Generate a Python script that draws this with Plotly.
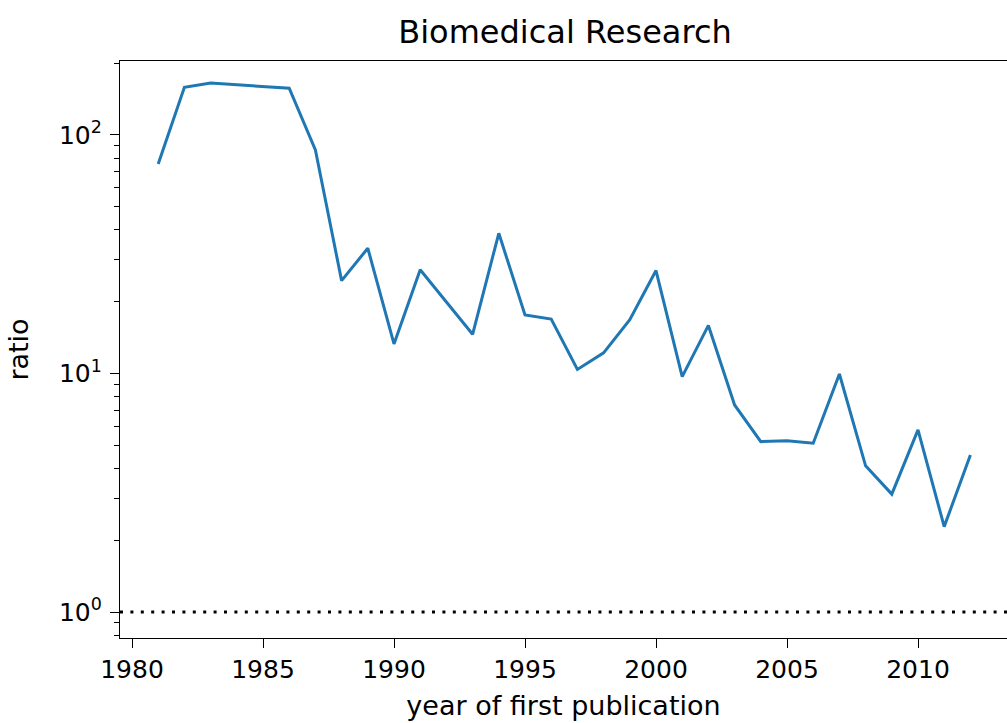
import plotly.graph_objects as go

years = [1981, 1982, 1983, 1984, 1985, 1986, 1987, 1988, 1989, 1990,
         1991, 1992, 1993, 1994, 1995, 1996, 1997, 1998, 1999, 2000,
         2001, 2002, 2003, 2004, 2005, 2006, 2007, 2008, 2009, 2010,
         2011, 2012]
ratio = [75.5, 158.5, 165, 162, 160, 157, 86.5, 24.5, 33.5, 13.3,
         27.2, 20.0, 14.6, 38.7, 17.6, 16.9, 10.4, 12.2, 16.8, 27.0,
         9.7, 15.9, 7.38, 5.18, 5.22, 5.10, 9.95, 4.10, 3.12, 5.80,
         2.28, 4.55]
reference_ratio = 1.0

x_tick_vals = [1980, 1985, 1990, 1995, 2000, 2005, 2010]
y_tick_vals = [1, 10, 100]
y_tick_text = ["10<sup>0</sup>", "10<sup>1</sup>", "10<sup>2</sup>"]
y_minor_vals = [0.8, 0.9, 2, 3, 4, 5, 6, 7, 8, 9,
                20, 30, 40, 50, 60, 70, 80, 90, 200]

x_range = [1979.542, 2013.397]
y_range_log = [-0.109, 2.310]

FONT = "DejaVu Sans"
W, H = 1007, 723

fig = go.Figure()
fig.add_trace(go.Scatter(
    x=years, y=ratio, mode="lines",
    line=dict(color="#1f77b4", width=3),
    showlegend=False,
))
fig.add_hline(y=reference_ratio,
              line=dict(color="black", width=3, dash="3px,7.4px"))

fig.update_layout(
    width=W, height=H,
    paper_bgcolor="white", plot_bgcolor="white",
    margin=dict(l=120, r=0, t=61, b=85),
    font=dict(family=FONT, color="black"),
    title=dict(text="Biomedical Research", x=565 / W, xref="container",
               xanchor="center", y=1 - 32 / H, yref="container",
               yanchor="middle", font=dict(size=32, family=FONT, color="black")),
    xaxis=dict(
        range=x_range, tickvals=x_tick_vals,
        showline=True, linecolor="black", linewidth=1.3, mirror=True,
        ticks="outside", ticklen=9, tickwidth=1.3, tickcolor="black",
        showgrid=False, zeroline=False,
        tickfont=dict(size=25, family=FONT, color="black"),
        title=dict(text="year of first publication",
                   font=dict(size=27, family=FONT, color="black"), standoff=12),
    ),
    yaxis=dict(
        type="log", range=y_range_log,
        tickvals=y_tick_vals, ticktext=y_tick_text,
        showline=True, linecolor="black", linewidth=1.3, mirror=False,
        ticks="outside", ticklen=9, tickwidth=1.3, tickcolor="black",
        showgrid=False, zeroline=False, ticklabelstandoff=3,
        tickfont=dict(size=25, family=FONT, color="black"),
        minor=dict(tickvals=y_minor_vals, ticks="outside", ticklen=5,
                   tickwidth=1.1, tickcolor="black", showgrid=False),
        title=dict(text="ratio",
                   font=dict(size=27, family=FONT, color="black"), standoff=22),
    ),
)

fig.write_html(
    "out.html",
    config={"displayModeBar": False},
    post_script="document.body.style.margin='0';"
                "document.body.style.overflow='hidden';",
)
